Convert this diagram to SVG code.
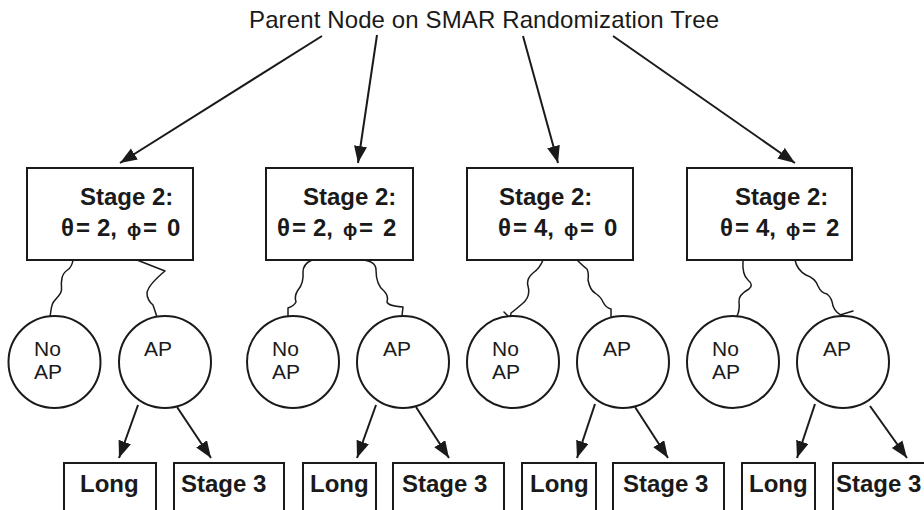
<svg xmlns="http://www.w3.org/2000/svg" width="924" height="510" viewBox="0 0 924 510">
<style>
.box{fill:#fff;stroke:#1a1a1a;stroke-width:2}
.circ{fill:#fff;stroke:#1a1a1a;stroke-width:2}
.b{font-family:"Liberation Sans",Arial,sans-serif;font-weight:bold;font-size:24px;fill:#1a1a1a}
.r{font-family:"Liberation Sans",Arial,sans-serif;font-size:21px;fill:#1a1a1a}
.t{font-family:"Liberation Sans",Arial,sans-serif;font-size:24px;fill:#1a1a1a}
.phi{font-size:19px}
.arr{fill:none;stroke:#1a1a1a;stroke-width:2;marker-end:url(#ah)}
.sq{fill:none;stroke:#1a1a1a;stroke-width:1.5;stroke-linejoin:round;stroke-linecap:round}
</style>
<defs>
<marker id="ah" markerUnits="userSpaceOnUse" markerWidth="18" markerHeight="14" refX="17" refY="6.5" orient="auto">
<path d="M0,0 L17,6.5 L0,13 z" fill="#1a1a1a"/>
</marker>
</defs>
<text id="title" class="t" x="249" y="28" textLength="470" lengthAdjust="spacing">Parent Node on SMAR Randomization Tree</text>
<g id="connectors">
<line class="arr" x1="322" y1="36" x2="120" y2="163"/>
<line class="arr" x1="377" y1="35" x2="358" y2="163"/>
<line class="arr" x1="523" y1="36" x2="558" y2="163"/>
<line class="arr" x1="613" y1="36" x2="795" y2="163"/>
<path class="sq" d="M73,260 Q72,267 67.5,270 Q63,273 62,278 Q61,283 61.5,287.5 Q62,292 58.5,296 Q55,300 53.5,302 Q52,304 51,310 L50,317"/>
<path class="sq" d="M137,260 L165,271 Q148,285 147,293 Q147,300 153,305 L157,317"/>
<path class="sq" d="M312,260 Q303,264 303,272 Q304,283 298,290 Q294,296 296,302 Q294,306 288,308 L288,317"/>
<path class="sq" d="M362,260 Q376,261 376,270 Q376,285 384,291 Q389,296 387,302 Q388,306 403,307 L402,316"/>
<path class="sq" d="M543,260 Q540,268 533,273 Q526,279 528,286 Q531,297 522,304 Q515,310 511,313 L510,319 M504,312 L510,318"/>
<path class="sq" d="M577,260 Q583,266 587,269 Q589,273 588,280 Q590,290 595,293 Q601,297 603,302 Q606,308 611,309 L611,320"/>
<path class="sq" d="M743,260 Q742,275 748,280 Q754,285 749,289 Q738,295 739,302 Q740,310 737,316 L741,318"/>
<path class="sq" d="M795,260 Q797,270 806,275 Q815,278 818,286 Q821,293 827,294 Q832,298 833,306 Q836,314 844,316 L845,319 M840,315 L853,311"/>
<line class="arr" x1="138" y1="405" x2="119" y2="458"/>
<line class="arr" x1="177" y1="407" x2="211" y2="458"/>
<line class="arr" x1="376" y1="405" x2="357" y2="458"/>
<line class="arr" x1="416" y1="407" x2="449" y2="458"/>
<line class="arr" x1="595" y1="404" x2="577" y2="458"/>
<line class="arr" x1="635" y1="407" x2="668" y2="458"/>
<line class="arr" x1="815" y1="404" x2="797" y2="458"/>
<line class="arr" x1="870" y1="406" x2="907" y2="458"/>
</g>
<g id="stage2-a">
<rect class="box" x="27" y="168" width="166" height="92"/>
<text class="b" x="80" y="205">Stage 2:</text>
<text class="b" y="236"><tspan x="61">θ</tspan><tspan x="76">=</tspan><tspan x="97">2,</tspan><tspan class="phi" x="127">ϕ</tspan><tspan x="143">=</tspan><tspan x="167">0</tspan></text>
</g>
<g id="stage2-b">
<rect class="box" x="266" y="168" width="147" height="92"/>
<text class="b" x="303" y="205">Stage 2:</text>
<text class="b" y="236"><tspan x="277">θ</tspan><tspan x="292">=</tspan><tspan x="313">2,</tspan><tspan class="phi" x="343">ϕ</tspan><tspan x="359">=</tspan><tspan x="383">2</tspan></text>
</g>
<g id="stage2-c">
<rect class="box" x="467" y="168" width="166" height="92"/>
<text class="b" x="499" y="205">Stage 2:</text>
<text class="b" y="236"><tspan x="498">θ</tspan><tspan x="513">=</tspan><tspan x="534">4,</tspan><tspan class="phi" x="564">ϕ</tspan><tspan x="580">=</tspan><tspan x="604">0</tspan></text>
</g>
<g id="stage2-d">
<rect class="box" x="687" y="168" width="165" height="92"/>
<text class="b" x="735" y="205">Stage 2:</text>
<text class="b" y="236"><tspan x="720">θ</tspan><tspan x="735">=</tspan><tspan x="756">4,</tspan><tspan class="phi" x="786">ϕ</tspan><tspan x="802">=</tspan><tspan x="826">2</tspan></text>
</g>
<g id="noap-a"><circle class="circ" cx="54.5" cy="362" r="46"/><text class="r" x="34" y="356">No</text><text class="r" x="34" y="379">AP</text></g>
<g id="ap-a"><circle class="circ" cx="165" cy="362" r="46"/><text class="r" x="144" y="356">AP</text></g>
<g id="noap-b"><circle class="circ" cx="293" cy="362" r="46"/><text class="r" x="272" y="356">No</text><text class="r" x="272" y="379">AP</text></g>
<g id="ap-b"><circle class="circ" cx="403" cy="362" r="46"/><text class="r" x="383" y="356">AP</text></g>
<g id="noap-c"><circle class="circ" cx="513" cy="362" r="46"/><text class="r" x="492" y="356">No</text><text class="r" x="492" y="379">AP</text></g>
<g id="ap-c"><circle class="circ" cx="623" cy="362" r="46"/><text class="r" x="603" y="356">AP</text></g>
<g id="noap-d"><circle class="circ" cx="733" cy="362" r="46"/><text class="r" x="712" y="356">No</text><text class="r" x="712" y="379">AP</text></g>
<g id="ap-d"><circle class="circ" cx="843" cy="362" r="46"/><text class="r" x="823" y="356">AP</text></g>
<g id="long-a"><rect class="box" x="64" y="463" width="92" height="60"/><text class="b" x="80" y="492">Long</text></g>
<g id="stage3-a"><rect class="box" x="174" y="463" width="110" height="60"/><text class="b" x="181" y="492">Stage 3</text></g>
<g id="long-b"><rect class="box" x="303" y="463" width="73" height="60"/><text class="b" x="310" y="492">Long</text></g>
<g id="stage3-b"><rect class="box" x="393" y="463" width="111" height="60"/><text class="b" x="402" y="492">Stage 3</text></g>
<g id="long-c"><rect class="box" x="522" y="463" width="74" height="60"/><text class="b" x="530" y="492">Long</text></g>
<g id="stage3-c"><rect class="box" x="613" y="463" width="111" height="60"/><text class="b" x="623" y="492">Stage 3</text></g>
<g id="long-d"><rect class="box" x="742" y="463" width="73" height="60"/><text class="b" x="749" y="492">Long</text></g>
<g id="stage3-d"><rect class="box" x="833" y="463" width="110" height="60"/><text class="b" x="836" y="492">Stage 3</text></g>
</svg>
